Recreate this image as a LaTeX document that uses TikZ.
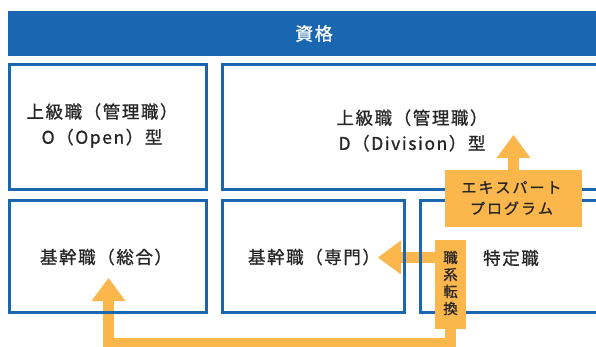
\documentclass[tikz,border=0pt]{standalone}
\usepackage{fontspec}
\setmainfont{Noto Sans CJK JP}[FakeBold=1]
\newfontfamily\jpwide{Noto Sans CJK JP}[FakeBold=1,LetterSpace=9]
\usetikzlibrary{arrows.meta}
\definecolor{hblue}{HTML}{1B66B1}
\definecolor{horange}{HTML}{FBB64C}
\definecolor{htext}{HTML}{262626}
\begin{document}
\begin{tikzpicture}[x=1pt,y=-1pt,
  bluebox/.style={draw=hblue,line width=3pt,fill=none,inner sep=0pt},
  orbox/.style={fill=horange,inner sep=0pt,text=htext},
  lbl/.style={text=htext,align=center,inner sep=0pt,font=\jpwide\fontsize{17.5}{25.5}\selectfont},
  arr/.style={draw=horange,line width=11pt,line join=miter,
    -{Triangle[width=34pt,length=23pt,line width=0pt]}}
]
\useasboundingbox (0,0) rectangle (596,347);
% header
\node[fill=hblue,minimum width=612pt,minimum height=45pt,inner sep=0pt,
  text=white,font=\jpwide\fontsize{18}{20}\selectfont] (hdr) at (314,33.5) {資格};
% orange label boxes (positions needed for arrows)
\path node[orbox,minimum width=137pt,minimum height=57pt] (exp) at (513.5,198.5) {}
      node[orbox,minimum width=31pt,minimum height=89pt] (shoku) at (450.5,284.5) {};
\coordinate (upTip) at (513.5,135);
\coordinate (leftTip) at (378,257.5);
\coordinate (gTip) at (108.5,278);
\coordinate (bend) at (108.5,343.5);
% arrows (under the boxes)
\draw[arr] (exp.north) -- (upTip);
\draw[arr] (shoku.west |- leftTip) -- (leftTip);
\draw[arr] (shoku.south) |- (bend) -- (gTip);
% blue boxes
\node[bluebox,minimum width=197pt,minimum height=125pt] (boxO) at (108,127) {};
\node[bluebox,minimum width=396pt,minimum height=125pt] (boxD) at (420.5,127) {};
\node[bluebox,minimum width=197pt,minimum height=112pt] (boxG) at (108,256.5) {};
\node[bluebox,minimum width=182pt,minimum height=112pt] (boxS) at (313.5,256.5) {};
\node[bluebox,minimum width=198pt,minimum height=112pt] (boxT) at (519.5,256.5) {};
% orange boxes on top
\node[orbox,minimum width=137pt,minimum height=57pt] (exp2) at (513.5,198.5) {};
\node[orbox,minimum width=31pt,minimum height=89pt] (shoku2) at (450.5,284.5) {};
% labels
\node[lbl] (tO) at (102,125.5) {上級職（管理職）\\O（Open）型};
\node[lbl] (tD) at (412,130.5) {上級職（管理職）\\D（Division）型};
\node[lbl] (tG) at (106,257) {基幹職（総合）};
\node[lbl] (tS) at (314,257) {基幹職（専門）};
\node[lbl] (tT) at (511,258) {特定職};
\node[lbl,font=\fontsize{15}{21}\selectfont] (tExp) at (511.5,198)
  {エ\kern2pt キ\kern2pt ス\kern2pt パ\kern2pt ー\kern2pt ト\\プ\kern2pt ロ\kern2pt グ\kern2pt ラ\kern2pt ム};
\node[lbl,font=\fontsize{14.5}{17}\selectfont] (tShoku) at (450.5,283) {職\\系\\転\\換};
\end{tikzpicture}
\end{document}
